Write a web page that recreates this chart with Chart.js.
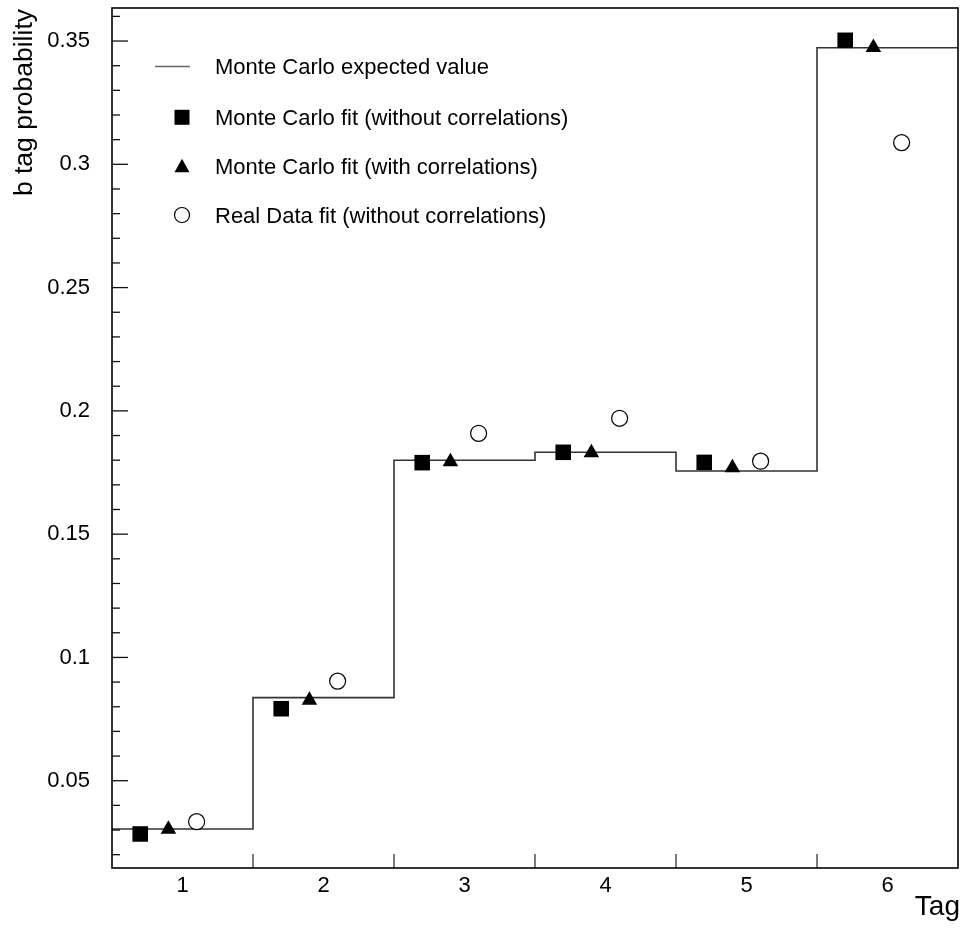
<!DOCTYPE html>
<html><head><meta charset="utf-8">
<script src="https://cdn.jsdelivr.net/npm/chart.js@4/dist/chart.umd.min.js"></script>
<style>html,body{margin:0;padding:0;background:#fff;} #wrap{width:963px;height:930px;}</style>
</head><body><div id="wrap"><canvas id="c" width="963" height="930"></canvas></div>
<script>
// ---- data ----
const bins = [1, 2, 3, 4, 5, 6];
const binLabels = ['1', '2', '3', '4', '5', '6'];
const mcExpected  = [0.0304, 0.0837, 0.1800, 0.1832, 0.1756, 0.3473];
const mcFitNoCorr = [0.0284, 0.0792, 0.1790, 0.1832, 0.1791, 0.3503];
const mcFitCorr   = [0.0303, 0.0826, 0.1794, 0.1830, 0.1769, 0.3474];
const realDataFit = [0.0334, 0.0904, 0.1909, 0.1970, 0.1796, 0.3088];
const yMajorTicks = [0.05, 0.1, 0.15, 0.2, 0.25, 0.3, 0.35];
const yTickLabels = ['0.05', '0.1', '0.15', '0.2', '0.25', '0.3', '0.35'];
const seriesNames = [
  'Monte Carlo expected value',
  'Monte Carlo fit (without correlations)',
  'Monte Carlo fit (with correlations)',
  'Real Data fit (without correlations)'
];
const xTitle = 'Tag';
const yTitle = 'b tag probability';
const xRange = [0.5, 6.5];
const yRange = [0.0146, 0.3634];
const shiftNoCorr = -0.3, shiftCorr = -0.1, shiftReal = 0.1;

// ---- build library data ----
const stepPts = bins.map((b, i) => ({x: b - 0.5, y: mcExpected[i]}));
stepPts.push({x: bins[bins.length - 1] + 0.5, y: mcExpected[mcExpected.length - 1]});
const pts = (arr, s) => bins.map((b, i) => ({x: b + s, y: arr[i]}));

const FONT = '"Liberation Sans", Arial, Helvetica, sans-serif';

const rootStyle = {
  id: 'rootStyle',
  afterDraw(chart) {
    const ctx = chart.ctx, a = chart.chartArea;
    const xs = chart.scales.x, ys = chart.scales.y;
    ctx.save();
    // y ticks (inward)
    ctx.strokeStyle = '#111'; ctx.lineWidth = 1.3;
    for (let k = 2; k <= 36; k++) {
      const v = k / 100;
      const py = ys.getPixelForValue(v);
      const major = (k % 5 === 0);
      ctx.beginPath(); ctx.moveTo(a.left, py); ctx.lineTo(a.left + (major ? 16 : 8), py); ctx.stroke();
    }
    // x ticks at bin edges
    ctx.strokeStyle = '#333';
    for (let i = 1; i < bins.length; i++) {
      const px = xs.getPixelForValue(bins[i] - 0.5);
      ctx.beginPath(); ctx.moveTo(px, a.bottom); ctx.lineTo(px, a.bottom - 14); ctx.stroke();
    }
    // frame
    ctx.strokeStyle = '#000'; ctx.lineWidth = 1.6;
    ctx.strokeRect(a.left, a.top, a.right - a.left, a.bottom - a.top);
    // axis titles
    ctx.fillStyle = '#000';
    ctx.font = '28px ' + FONT;
    ctx.textAlign = 'right'; ctx.textBaseline = 'alphabetic';
    ctx.fillText(xTitle, 960, 915);
    ctx.save();
    ctx.translate(32, 9); ctx.rotate(-Math.PI / 2);
    ctx.font = '26.5px ' + FONT;
    ctx.textAlign = 'right'; ctx.textBaseline = 'alphabetic';
    ctx.fillText(yTitle, 0, 0);
    ctx.restore();
    // legend
    const rowsY = [66.5, 117.3, 165.8, 215];
    const baseY = [74.3, 125.1, 173.6, 222.8];
    const mx = 182;
    ctx.font = '22px ' + FONT; ctx.textAlign = 'left'; ctx.textBaseline = 'alphabetic';
    seriesNames.forEach((name, i) => {
      const y = rowsY[i];
      ctx.fillStyle = '#000';
      ctx.fillText(name, 215, baseY[i]);
      if (i === 0) {
        ctx.strokeStyle = '#666'; ctx.lineWidth = 1.3;
        ctx.beginPath(); ctx.moveTo(155, y); ctx.lineTo(190, y); ctx.stroke();
      } else if (i === 1) {
        ctx.fillRect(mx - 7.5, y - 7.5, 15, 15);
      } else if (i === 2) {
        ctx.beginPath(); ctx.moveTo(mx, y - 7); ctx.lineTo(mx + 7.5, y + 6.5); ctx.lineTo(mx - 7.5, y + 6.5); ctx.closePath(); ctx.fill();
      } else {
        ctx.strokeStyle = '#000'; ctx.lineWidth = 1.2; ctx.fillStyle = '#fff';
        ctx.beginPath(); ctx.arc(mx, y, 7.5, 0, Math.PI * 2); ctx.fill(); ctx.stroke();
      }
    });
    ctx.restore();
  }
};

new Chart(document.getElementById('c'), {
  type: 'scatter',
  data: {
    datasets: [
      {label: seriesNames[1], data: pts(mcFitNoCorr, shiftNoCorr), pointStyle: 'rect', pointRadius: 11,
       backgroundColor: '#000', borderColor: '#000', borderWidth: 0, order: 0},
      {label: seriesNames[2], data: pts(mcFitCorr, shiftCorr), pointStyle: 'triangle', pointRadius: 9,
       backgroundColor: '#000', borderColor: '#000', borderWidth: 0, order: 0},
      {label: seriesNames[3], data: pts(realDataFit, shiftReal), pointStyle: 'circle', pointRadius: 8,
       backgroundColor: '#fff', borderColor: '#000', borderWidth: 1.2, order: 0},
      {label: seriesNames[0], data: stepPts, showLine: true, stepped: true, pointRadius: 0,
       borderColor: '#333', borderWidth: 1.6, fill: false, order: 1}
    ]
  },
  options: {
    responsive: false, animation: false, devicePixelRatio: 1,
    layout: {autoPadding: false, padding: {left: 0, top: 8, right: 5, bottom: 0}},
    plugins: {legend: {display: false}, tooltip: {enabled: false}},
    scales: {
      x: {
        type: 'linear', min: xRange[0], max: xRange[1],
        grid: {display: false, drawTicks: false}, border: {display: false},
        afterBuildTicks: s => { s.ticks = bins.map(v => ({value: v})); },
        afterFit: s => { s.height = 62; s.paddingLeft = 0; s.paddingRight = 0; },
        ticks: {padding: 5, color: '#000', font: {family: FONT, size: 22}, maxRotation: 0,
                callback: (v, i) => binLabels[i]}
      },
      y: {
        type: 'linear', min: yRange[0], max: yRange[1],
        grid: {display: false, drawTicks: false}, border: {display: false},
        afterBuildTicks: s => { s.ticks = yMajorTicks.map(v => ({value: v})); },
        afterFit: s => { s.width = 112; s.paddingTop = 0; s.paddingBottom = 0; },
        ticks: {padding: 22, color: '#000', font: {family: FONT, size: 22},
                callback: (v, i) => yTickLabels[i]}
      }
    }
  },
  plugins: [rootStyle]
});
</script></body></html>
